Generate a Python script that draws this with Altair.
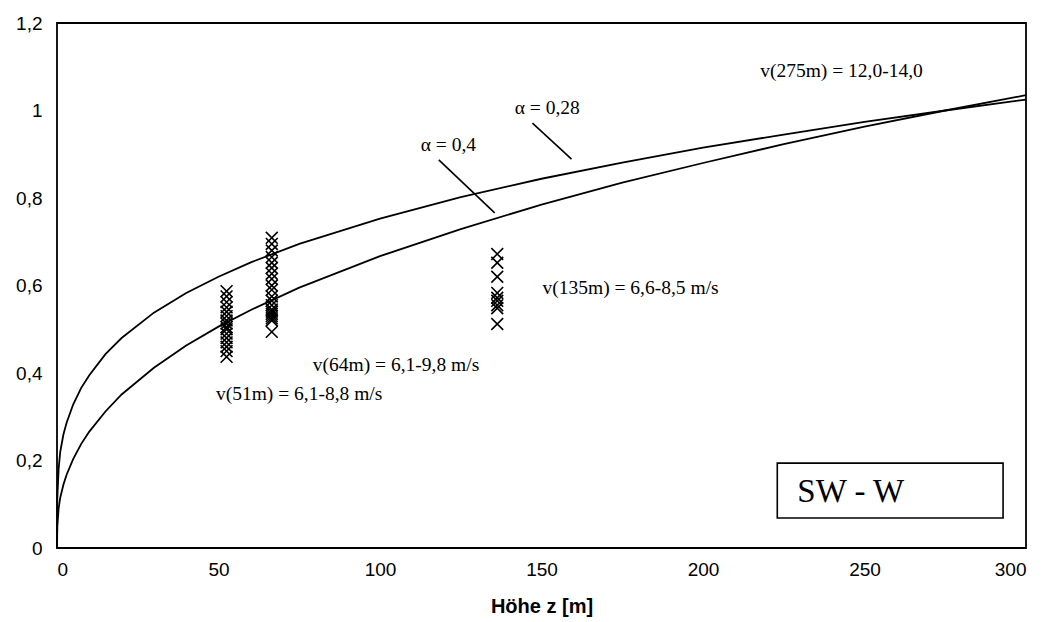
import altair as alt
import pandas as pd

# Curve readings (height z in m, relative wind speed v/v(275m))
curve_z = [0, 0.1, 0.5, 1, 2, 3, 5, 7.5, 10, 15, 20, 30, 40, 50, 60, 75, 100, 125, 150, 175, 200, 225, 250, 275, 300]
curve_a028 = [0, 0.115, 0.18, 0.22, 0.26, 0.287, 0.328, 0.366, 0.395, 0.443, 0.480, 0.538, 0.583, 0.620, 0.653,
              0.695, 0.753, 0.802, 0.844, 0.881, 0.915, 0.945, 0.974, 1.0, 1.025]
curve_a04 = [0, 0.05, 0.09, 0.115, 0.145, 0.168, 0.203, 0.238, 0.266, 0.312, 0.351, 0.412, 0.463, 0.506, 0.544,
             0.595, 0.667, 0.729, 0.785, 0.835, 0.880, 0.923, 0.963, 1.0, 1.035]

# Measurements (crosses)
g1_z = 52.5
g1_v = [0.587, 0.575, 0.562, 0.55, 0.54, 0.53, 0.52, 0.513, 0.505, 0.50, 0.49, 0.48, 0.47, 0.46, 0.45, 0.437]
g2_z = 66.5
g2_v = [0.709, 0.695, 0.68, 0.665, 0.652, 0.64, 0.627, 0.615, 0.60, 0.59, 0.575, 0.565, 0.555, 0.545,
        0.54, 0.535, 0.53, 0.525, 0.52, 0.494]
g3_z = 136.3
g3_v = [0.672, 0.652, 0.62, 0.583, 0.572, 0.565, 0.555, 0.548, 0.512]

# Annotation texts
label_texts = ["v(275m) = 12,0-14,0", "α = 0,28", "α = 0,4", "v(135m) = 6,6-8,5 m/s",
               "v(64m) = 6,1-9,8 m/s", "v(51m) = 6,1-8,8 m/s"]
label_x = [217.7, 141.7, 112.6, 150.3, 79.2, 49.2]
label_y = [1.090, 1.006, 0.921, 0.594, 0.418, 0.352]

leader_x = [147.2, 118.2]
leader_y = [0.971, 0.887]
leader_x2 = [159.3, 135.5]
leader_y2 = [0.889, 0.766]

box_text = "SW - W"

curves = pd.DataFrame({
    "z": curve_z + curve_z,
    "v": curve_a028 + curve_a04,
    "alpha": ["0,28"] * len(curve_z) + ["0,4"] * len(curve_z),
})
pts = pd.DataFrame({
    "z": [g1_z] * len(g1_v) + [g2_z] * len(g2_v) + [g3_z] * len(g3_v),
    "v": g1_v + g2_v + g3_v,
})
labels = pd.DataFrame({"t": label_texts, "x": label_x, "y": label_y})
leaders = pd.DataFrame({"x": leader_x, "y": leader_y, "x2": leader_x2, "y2": leader_y2})
box = pd.DataFrame({"x": [223.0], "x2": [292.9], "y": [0.194], "y2": [0.0686], "t": [box_text],
                    "tx": [229.2], "ty": [0.128]})

xs = alt.Scale(domain=[0, 300], nice=False)
ys = alt.Scale(domain=[0, 1.2], nice=False)

xax = alt.Axis(title="Höhe z [m]", values=[0, 50, 100, 150, 200, 250, 300], grid=False, ticks=False,
               domain=False, labelPadding=12, titlePadding=17, labelFontSize=19, titleFontSize=20,
               titleFontWeight="bold", labelFont="Liberation Sans", titleFont="Liberation Sans",
               labelColor="black", titleColor="black")
yax = alt.Axis(title=None, values=[0, 0.2, 0.4, 0.6, 0.8, 1.0, 1.2], grid=False, ticks=False, domain=False,
               labelPadding=15, labelFontSize=19, labelFont="Liberation Sans", labelColor="black",
               labelExpr="replace(toString(datum.value), '.', ',')")

lines = alt.Chart(curves).mark_line(color="black", strokeWidth=1.8).encode(
    x=alt.X("z:Q", scale=xs, axis=xax),
    y=alt.Y("v:Q", scale=ys, axis=yax),
    detail="alpha:N",
)

crosses = alt.Chart(pts).mark_point(
    shape="M-1,-1L1,1M-1,1L1,-1", filled=False, color="black", strokeWidth=1.6, size=140, opacity=1
).encode(x=alt.X("z:Q", scale=xs), y=alt.Y("v:Q", scale=ys))

leader = alt.Chart(leaders).mark_rule(color="black", strokeWidth=1.6).encode(
    x=alt.X("x:Q", scale=xs), y=alt.Y("y:Q", scale=ys), x2="x2:Q", y2="y2:Q"
)

texts = alt.Chart(labels).mark_text(
    align="left", baseline="middle", font="Liberation Serif", fontSize=19.5, color="black"
).encode(x=alt.X("x:Q", scale=xs), y=alt.Y("y:Q", scale=ys), text="t:N")

rect = alt.Chart(box).mark_rect(fill="white", stroke="black", strokeWidth=1.6).encode(
    x=alt.X("x:Q", scale=xs), x2="x2:Q", y=alt.Y("y:Q", scale=ys), y2="y2:Q"
)
rect_text = alt.Chart(box).mark_text(
    align="left", baseline="middle", font="Liberation Serif", fontSize=33, color="black"
).encode(x=alt.X("tx:Q", scale=xs), y=alt.Y("ty:Q", scale=ys), text="t:N")

chart = alt.layer(lines, crosses, leader, texts, rect, rect_text).properties(
    width=969, height=525,
    autosize=alt.AutoSizeParams(type="none"),
    padding={"left": 57, "top": 23, "right": 21, "bottom": 74},
    background="white",
).configure_view(stroke="black", strokeWidth=1.8)

chart.save("out.html", embed_options={"renderer": "svg", "actions": False})
